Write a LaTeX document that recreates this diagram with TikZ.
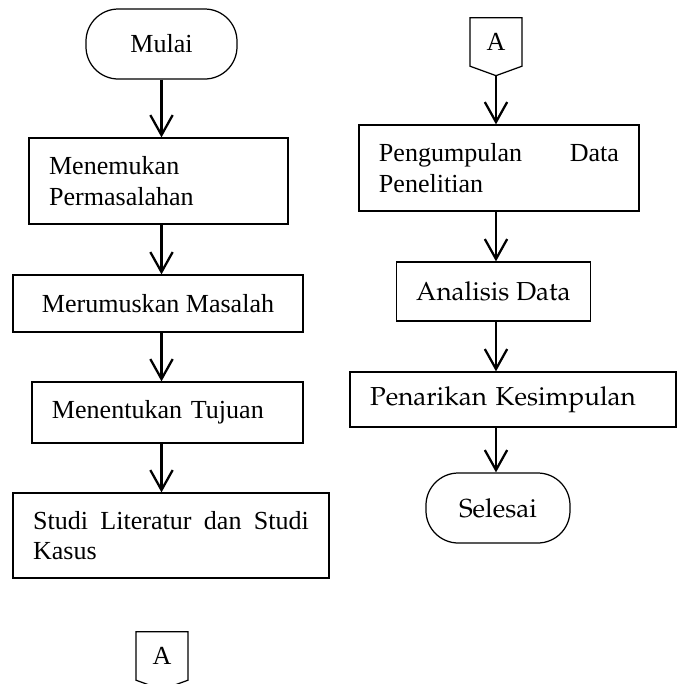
\documentclass[tikz,border=0pt]{standalone}
\usepackage[T1]{fontenc}
\usepackage{fontspec}
\setmainfont{Liberation Serif}
\usetikzlibrary{arrows.meta,shapes.symbols}
\newcommand\palfont{\fontencoding{T1}\fontfamily{ppl}\selectfont}
\hyphenpenalty=10000

\tikzset{alur/.style = {every node/.style = {font=\fontsize{12.6}{14.8}\selectfont},
                        panah/.style = {line width=1.1pt, -{Straight Barb[length=0.34cm,width=0.38cm]}},
                        kotak/.style = {draw, line width=0.6pt, inner xsep=0.34cm, inner ysep=0pt},
                        terminal/.style = {draw, line width=0.6pt, rounded corners=0.55cm,
                                           minimum width=##1, minimum height=1.19cm},
                        konektor/.style = {draw, line width=0.6pt, signal, signal to=south,
                                           signal pointer angle=140, inner sep=0pt,
                                           minimum width=0.884cm, minimum height=0.88cm},
                       },
        }

\begin{document}
\begin{tikzpicture}[alur, x=0.017cm, y=-0.017cm]
  \useasboundingbox (0,0) rectangle (681,684);
  % kolom kiri
  \node[terminal=2.567cm] (mulai) at (161.5,44) {Mulai};
  \node[kotak, text width=3.72cm, align=left, minimum height=1.462cm] (menemukan) at (158.5,181)
       {Menemukan Permasalahan};
  \node[kotak, minimum width=4.93cm, minimum height=0.969cm] (merumuskan) at (158,303.5)
       {Merumuskan Masalah};
  \node[kotak, text width=3.927cm, align=left, minimum height=1.037cm] (menentukan) at (167.5,412.5)
       {Menentukan Tujuan};
  \node[kotak, text width=4.69cm, align=justify, minimum height=1.445cm] (studi) at (171,535.5)
       {Studi Literatur dan Studi Kasus};
  \node[konektor] (a1) at (162,656) {A};
  % kolom kanan
  \node[konektor] (a2) at (496,42) {A};
  \node[kotak, text width=4.08cm, align=justify, minimum height=1.462cm] (pengumpulan) at (499,168)
       {Pengumpulan Data Penelitian};
  \node[kotak, minimum width=3.281cm, minimum height=1.003cm, font=\palfont\fontsize{12.6}{14.8}\selectfont]
       (analisis) at (493.5,291.5) {Analisis Data};
  \node[kotak, text width=4.86cm, align=left, minimum height=0.935cm, font=\palfont\fontsize{12.6}{14.8}\selectfont]
       (penarikan) at (513,399.5) {Penarikan Kesimpulan};
  \node[terminal=2.448cm, font=\palfont\fontsize{12.6}{14.8}\selectfont] (selesai) at (498,508) {Selesai};

  \draw[panah] (mulai.south) -- (menemukan.north -| mulai.south);
  \draw[panah] (menemukan.south -| mulai.south) -- (merumuskan.north -| mulai.south);
  \draw[panah] (merumuskan.south -| mulai.south) -- (menentukan.north -| mulai.south);
  \draw[panah] (menentukan.south -| mulai.south) -- (studi.north -| mulai.south);

  \draw[panah] (a2.south) -- (pengumpulan.north -| a2.south);
  \draw[panah] (pengumpulan.south -| a2.south) -- (analisis.north -| a2.south);
  \draw[panah] (analisis.south -| a2.south) -- (penarikan.north -| a2.south);
  \draw[panah] (penarikan.south -| a2.south) -- (selesai.north -| a2.south);
\end{tikzpicture}
\end{document}
